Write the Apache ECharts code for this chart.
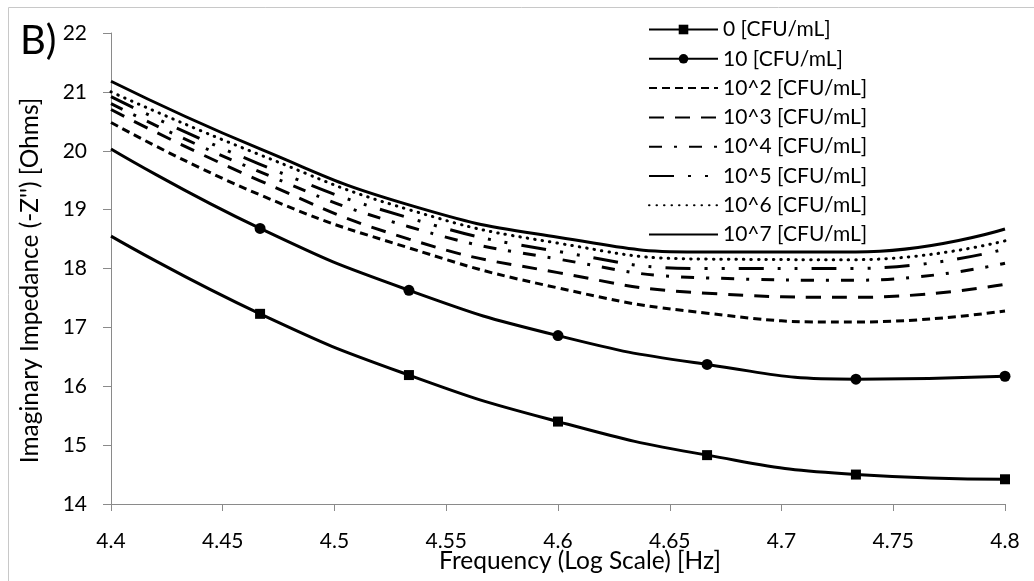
<!DOCTYPE html>
<html>
<head>
<meta charset="utf-8">
<script src="https://cdn.jsdelivr.net/npm/echarts@6/dist/echarts.min.js"></script>
<style>
html,body{margin:0;padding:0;background:#fff;}
#chart{width:1034px;height:581px;}
</style>
</head>
<body>
<div id="chart"></div>
<script>
// ---- data ----
const freq = [4.4, 4.4667, 4.5333, 4.6, 4.6667, 4.7333, 4.8];
const seriesNames = ['0 [CFU/mL]', '10 [CFU/mL]', '10^2 [CFU/mL]', '10^3 [CFU/mL]',
  '10^4 [CFU/mL]', '10^5 [CFU/mL]', '10^6 [CFU/mL]', '10^7 [CFU/mL]'];
const c0 = [18.55, 17.23, 16.19, 15.40, 14.83, 14.50, 14.42];
const c1 = [20.03, 18.68, 17.63, 16.86, 16.37, 16.12, 16.17];
const c2 = [20.48, 19.25, 18.35, 17.67, 17.24, 17.09, 17.28];
const c3 = [20.70, 19.49, 18.50, 17.93, 17.58, 17.51, 17.73];
const c4 = [20.80, 19.64, 18.71, 18.16, 17.84, 17.80, 18.09];
const c5 = [20.92, 19.77, 18.86, 18.29, 18.00, 18.00, 18.33];
const c6 = [21.00, 19.93, 19.00, 18.43, 18.16, 18.15, 18.47];
const c7 = [21.18, 20.03, 19.08, 18.53, 18.28, 18.28, 18.67];
const xTicks = { min: 4.4, max: 4.8, interval: 0.05 };
const yTicks = { min: 14, max: 22, interval: 1 };

const FONT = 'Lato';
const values = [c0, c1, c2, c3, c4, c5, c6, c7];
const dashes = [
  'solid', 'solid', [8, 5], [15, 11], [13, 12, 3, 12], [25, 14, 3, 14, 3, 14], [0.5, 7], 'solid'
];
const symbols = ['rect', 'circle', 'none', 'none', 'none', 'none', 'none', 'none'];

const series = values.map((vals, k) => {
  const hasSym = symbols[k] !== 'none';
  return {
    name: seriesNames[k],
    type: 'line',
    smooth: 0.5,
    symbol: symbols[k],
    symbolSize: symbols[k] === 'rect' ? 10 : 11,
    showSymbol: hasSym,
    itemStyle: { color: hasSym ? '#000' : 'rgba(0,0,0,0)' },
    lineStyle: { color: '#000', width: 3, type: dashes[k], cap: k === 6 ? 'round' : 'butt' },
    data: freq.map((x, i) => (i === 0 && hasSym)
      ? { value: [x, vals[i]], symbol: 'none' }
      : [x, vals[i]]),
    z: 2 + k
  };
});

const chart = echarts.init(document.getElementById('chart'), null, { renderer: 'canvas' });
chart.setOption({
  animation: false,
  backgroundColor: '#fff',
  title: {
    text: 'B)', left: 15, top: 16,
    textStyle: { fontFamily: FONT, fontSize: 40, fontWeight: 'normal', color: '#000' }
  },
  graphic: [{
    type: 'rect', shape: { x: 8.5, y: 7.5, width: 1100, height: 700 },
    style: { fill: null, stroke: '#c8c8c8', lineWidth: 1 }, silent: true, z: -1
  }],
  grid: { left: 111, right: 29, top: 33, bottom: 77, containLabel: false, outerBoundsMode: 'none' },
  legend: {
    orient: 'vertical', left: 643, top: 14,
    itemWidth: 69, itemHeight: 12, itemGap: 8.3,
    textStyle: { fontFamily: FONT, fontSize: 21, lineHeight: 20, color: '#000' },
    data: seriesNames
  },
  xAxis: {
    type: 'value', min: xTicks.min, max: xTicks.max, interval: xTicks.interval,
    name: 'Frequency (Log Scale) [Hz]', nameLocation: 'middle', nameGap: 45,
    nameMoveOverlap: false,
    nameTextStyle: { fontFamily: FONT, fontSize: 24.5, color: '#000', padding: [0, 0, 0, 44] },
    axisLine: { show: true, lineStyle: { color: '#8a8a8a', width: 1 } },
    axisTick: { show: true, inside: false, length: 7, lineStyle: { color: '#8a8a8a' } },
    axisLabel: { fontFamily: FONT, fontSize: 21, color: '#000', margin: 27,
      formatter: v => String(+v.toFixed(2)) },
    splitLine: { show: false }
  },
  yAxis: {
    type: 'value', min: yTicks.min, max: yTicks.max, interval: yTicks.interval,
    name: 'Imaginary Impedance (-Z\'\') [Ohms]', nameLocation: 'middle', nameGap: 68,
    nameMoveOverlap: false,
    nameTextStyle: { fontFamily: FONT, fontSize: 24.5, color: '#000', padding: [0, 24, 0, 0] },
    axisLine: { show: true, lineStyle: { color: '#8a8a8a', width: 1 } },
    axisTick: { show: true, inside: false, length: 8, lineStyle: { color: '#8a8a8a' } },
    axisLabel: { fontFamily: FONT, fontSize: 21, color: '#000', margin: 24 },
    splitLine: { show: false }
  },
  series: series
});
</script>
</body>
</html>
